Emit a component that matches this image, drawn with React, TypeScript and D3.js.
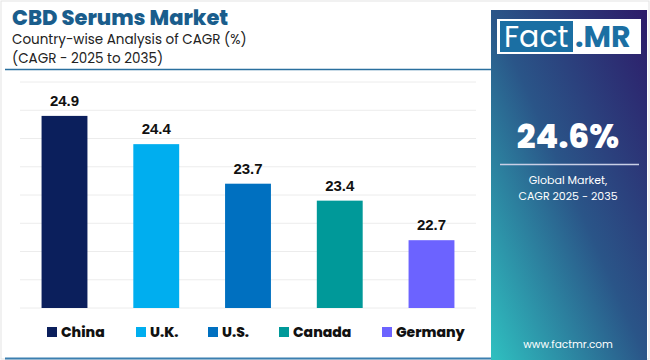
import React from "react";
import * as d3 from "d3";

// chart data
const countries = ["China", "U.K.", "U.S.", "Canada", "Germany"];
const cagr = [24.9, 24.4, 23.7, 23.4, 22.7];
const barColors = ["#0b1f5c", "#00aeef", "#0070c0", "#009999", "#6c63ff"];
const gridTicks = [21.5, 22, 22.5, 23, 23.5, 24, 24.5, 25, 25.5];

const W = 650;
const H = 360;

export default function App() {
  // scales
  const x = d3
    .scaleBand<string>()
    .domain(countries)
    .range([20, 476])
    .paddingInner(0.5)
    .paddingOuter(0.235);
  const y = d3.scaleLinear().domain([21.5, 25.5]).range([308, 82]);

  const legendX = [47, 136, 208, 279, 382];
  const font = "Poppins, Inter, 'Open Sans', sans-serif";

  return (
    <svg
      width={W}
      height={H}
      style={{ position: "absolute", left: 0, top: 0, background: "#fff" }}
    >
      <defs>
        <linearGradient id="panel" x1="1" y1="0" x2="0" y2="1">
          <stop offset="0" stopColor="#2d1b69" />
          <stop offset="0.5" stopColor="#2a5588" />
          <stop offset="1" stopColor="#2fc0c0" />
        </linearGradient>
      </defs>

      {/* outer frame */}
      <rect x={1} y={1} width={W - 2} height={H - 2} fill="none" stroke="#e3e3e3" />

      {/* header */}
      <text x={12} y={25} fontFamily={font} fontWeight={800} fontSize={21} fill="#1a5d8c">
        CBD Serums Market
      </text>
      <text x={12} y={44} fontFamily={font} fontSize={13.5} fill="#222">
        Country-wise Analysis of CAGR (%)
      </text>
      <text x={12} y={63} fontFamily={font} fontSize={13.5} fill="#222">
        (CAGR - 2025 to 2035)
      </text>
      <line x1={5} x2={491} y1={69.5} y2={69.5} stroke="#2a6f9e" strokeWidth={1.5} />

      {/* gridlines */}
      {gridTicks.map((t) => (
        <line key={t} x1={20} x2={476} y1={y(t)} y2={y(t)} stroke="#ececec" strokeWidth={1} />
      ))}

      {/* bars */}
      {countries.map((c, i) => (
        <g key={c}>
          <rect
            x={x(c)}
            y={y(cagr[i])}
            width={x.bandwidth()}
            height={y(21.5) - y(cagr[i])}
            fill={barColors[i]}
          />
          <text
            x={(x(c) as number) + x.bandwidth() / 2}
            y={y(cagr[i]) - 10}
            textAnchor="middle"
            fontFamily="'Liberation Sans', Arial, sans-serif"
            fontWeight={700}
            fontSize={15}
            fill="#111"
          >
            {cagr[i].toFixed(1)}
          </text>
        </g>
      ))}

      {/* legend */}
      {countries.map((c, i) => (
        <g key={c}>
          <rect x={legendX[i]} y={327} width={10} height={10} fill={barColors[i]} />
          <text
            x={legendX[i] + 14}
            y={337}
            fontFamily={font}
            fontWeight={800}
            fontSize={14}
            fill="#111"
          >
            {c}
          </text>
        </g>
      ))}
      <line x1={5} x2={491} y1={358.5} y2={358.5} stroke="#3b7fb0" strokeWidth={2} />

      {/* right panel */}
      <rect x={491} y={10} width={156} height={350} fill="url(#panel)" />
      <rect x={497} y={19} width={144} height={35} fill="#fff" />
      <rect x={500} y={21} width={73} height={31} fill="#1b6fa3" />
      <text x={504} y={47} fontFamily={font} fontSize={30} fill="#fff">
        Fact
      </text>
      <text x={575} y={47} fontFamily={font} fontWeight={700} fontSize={30} fill="#1b6fa3">
        .MR
      </text>
      <text
        x={568}
        y={148}
        textAnchor="middle"
        fontFamily={font}
        fontWeight={800}
        fontSize={33}
        fill="#fff"
      >
        24.6%
      </text>
      <line x1={500} x2={639} y1={164.5} y2={164.5} stroke="#c9cfe6" strokeWidth={1.5} />
      <text x={568} y={184} textAnchor="middle" fontFamily={font} fontSize={11} fill="#fff">
        Global Market,
      </text>
      <text x={568} y={199.5} textAnchor="middle" fontFamily={font} fontSize={11} fill="#fff">
        CAGR 2025 - 2035
      </text>
      <text x={568} y={348} textAnchor="middle" fontFamily={font} fontSize={10.5} fill="#fff">
        www.factmr.com
      </text>
    </svg>
  );
}
